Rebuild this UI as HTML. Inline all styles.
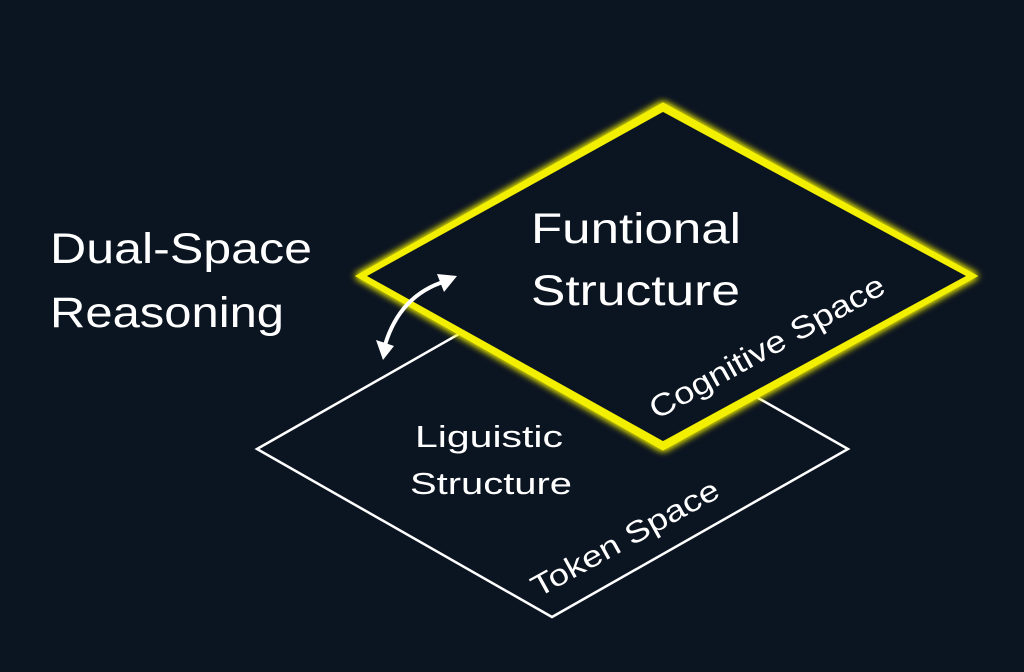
<!DOCTYPE html>
<html><head><meta charset="utf-8"><style>
html,body{margin:0;padding:0;background:#0b1421;}
svg{display:block}
text{font-family:"Liberation Sans","DejaVu Sans",sans-serif;fill:#fff;}
</style></head><body>
<svg width="1024" height="672" viewBox="0 0 1024 672" xmlns="http://www.w3.org/2000/svg">
<defs>
<filter id="glow" x="-20%" y="-20%" width="140%" height="140%">
<feGaussianBlur stdDeviation="4" result="b"/>
<feMerge><feMergeNode in="b"/><feMergeNode in="b"/><feMergeNode in="SourceGraphic"/></feMerge>
</filter>
</defs>
<rect width="1024" height="672" fill="#0b1421"/>
<polygon points="257,449 552,281 848,449 552,617" fill="none" stroke="#fff" stroke-width="2.5"/>
<polygon points="363,276 663,107 970,276 663,446" fill="none" stroke="#f2f000" stroke-width="8" filter="url(#glow)"/>
<polygon points="367,276 663,112 966,276 663,441" fill="#0b1421"/>
<path d="M385,345 Q400,295 446,281" fill="none" stroke="#fff" stroke-width="4"/>
<polygon points="457,276 437,274 444,292" fill="#fff"/>
<polygon points="383,360 376,340 394,346" fill="#fff"/>
<text x="50" y="263" font-size="43" textLength="262" lengthAdjust="spacingAndGlyphs">Dual-Space</text>
<text x="50" y="327" font-size="43" textLength="234" lengthAdjust="spacingAndGlyphs">Reasoning</text>
<text x="531" y="243" font-size="43" textLength="210" lengthAdjust="spacingAndGlyphs">Funtional</text>
<text x="531" y="305" font-size="43" textLength="209" lengthAdjust="spacingAndGlyphs">Structure</text>
<text x="415" y="447" font-size="31" textLength="148" lengthAdjust="spacingAndGlyphs">Liguistic</text>
<text x="410" y="494" font-size="31" textLength="162" lengthAdjust="spacingAndGlyphs">Structure</text>
<text transform="translate(772,356) rotate(-29)" font-size="31" text-anchor="middle" textLength="264" lengthAdjust="spacingAndGlyphs">Cognitive Space</text>
<text transform="translate(630,547) rotate(-29)" font-size="30" text-anchor="middle" textLength="210" lengthAdjust="spacingAndGlyphs">Token Space</text>
</svg>
</body></html>
